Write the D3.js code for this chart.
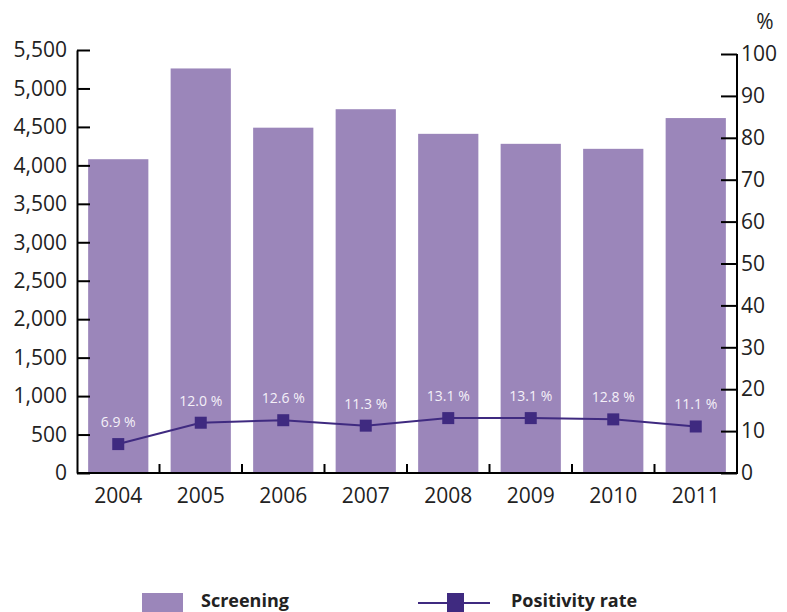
<!DOCTYPE html>
<html>
<head>
<meta charset="utf-8">
<script src="https://cdn.jsdelivr.net/npm/d3@7"></script>
<style>
  body { margin: 0; background: #fff; }
  svg text { font-family: "Open Sans", "Noto Sans", sans-serif; }
  .axis path, .axis line { stroke: #000; stroke-width: 2; }
  .axis text { font-size: 21px; fill: #222; }
</style>
</head>
<body>
<svg id="chart" width="787" height="612"></svg>
<script>
// chart data
var years = ["2004", "2005", "2006", "2007", "2008", "2009", "2010", "2011"];
var screening = [4080, 5260, 4490, 4730, 4410, 4280, 4215, 4615];
var positivity = [6.9, 12.0, 12.6, 11.3, 13.1, 13.1, 12.8, 11.1];
var leftTicks = [0, 500, 1000, 1500, 2000, 2500, 3000, 3500, 4000, 4500, 5000, 5500];
var rightTicks = [0, 10, 20, 30, 40, 50, 60, 70, 80, 90, 100];

var barColor = "#9b86ba",
    lineColor = "#3f2a80";

var svg = d3.select("#chart"),
    MARGINS = { left: 77, right: 737, top: 50, bottom: 473 };

var x = d3.scaleBand().domain(years).range([MARGINS.left, MARGINS.right]).paddingInner(0.27).paddingOuter(0.135);
var xb = d3.scaleBand().domain(years).range([MARGINS.left, MARGINS.right]);
var yL = d3.scaleLinear().domain([0, 5500]).range([MARGINS.bottom, MARGINS.top]);
var yR = d3.scaleLinear().domain([0, 100]).range([MARGINS.bottom, 54]);

// bars
svg.append("g").selectAll("rect")
   .data(years)
   .enter().append("rect")
   .attr("x", function(d) { return x(d); })
   .attr("width", x.bandwidth())
   .attr("y", function(d, i) { return yL(screening[i]); })
   .attr("height", function(d, i) { return yL(0) - yL(screening[i]); })
   .attr("fill", barColor);

// left axis
var gl = svg.append("g")
   .attr("class", "axis")
   .attr("transform", "translate(" + MARGINS.left + ",0)")
   .call(d3.axisRight(yL).tickValues(leftTicks).tickSize(13).tickSizeOuter(0).tickFormat(d3.format(",")));
gl.selectAll("text").attr("x", -10).attr("text-anchor", "end");

// right axis
var gr = svg.append("g")
   .attr("class", "axis")
   .attr("transform", "translate(" + MARGINS.right + ",0)")
   .call(d3.axisLeft(yR).tickValues(rightTicks).tickSize(16).tickSizeOuter(0));
gr.selectAll("text").attr("x", 4).attr("text-anchor", "start");
gr.select(".domain").attr("d", "M0," + yR(100) + "V" + (MARGINS.bottom + 1));

svg.append("text")
   .attr("x", 765).attr("y", 29)
   .attr("text-anchor", "middle")
   .attr("font-size", 21).attr("fill", "#222")
   .text("%");

// x axis: ticks between bars pointing up
var gx = svg.append("g")
   .attr("class", "axis")
   .attr("transform", "translate(0," + MARGINS.bottom + ")");
gx.append("line")
   .attr("x1", MARGINS.left).attr("x2", MARGINS.right)
   .attr("y1", 0).attr("y2", 0);
gx.selectAll(".tk")
   .data(years.slice(1))
   .enter().append("line")
   .attr("class", "tk")
   .attr("x1", function(d) { return xb(d); })
   .attr("x2", function(d) { return xb(d); })
   .attr("y1", 0).attr("y2", -9);
gx.selectAll(".lbl")
   .data(years)
   .enter().append("text")
   .attr("class", "lbl")
   .attr("x", function(d) { return xb(d) + xb.bandwidth() / 2; })
   .attr("y", 30)
   .attr("text-anchor", "middle")
   .text(function(d) { return d; });

// positivity line
var lineGen = d3.line()
   .x(function(d, i) { return xb(years[i]) + xb.bandwidth() / 2; })
   .y(function(d) { return yR(d); });

svg.append("path")
   .attr("d", lineGen(positivity))
   .attr("stroke", lineColor)
   .attr("stroke-width", 2)
   .attr("fill", "none");

svg.append("g").selectAll("rect")
   .data(positivity)
   .enter().append("rect")
   .attr("x", function(d, i) { return xb(years[i]) + xb.bandwidth() / 2 - 6; })
   .attr("y", function(d) { return yR(d) - 6; })
   .attr("width", 12).attr("height", 12)
   .attr("fill", lineColor);

svg.append("g").selectAll("text")
   .data(positivity)
   .enter().append("text")
   .attr("x", function(d, i) { return xb(years[i]) + xb.bandwidth() / 2; })
   .attr("y", function(d) { return yR(d) - 17; })
   .attr("text-anchor", "middle")
   .attr("font-size", 14)
   .attr("fill", "#f4f0f8")
   .text(function(d) { return d.toFixed(1) + " %"; });

// legend
var lg = svg.append("g");
lg.append("rect")
  .attr("x", 142).attr("y", 593).attr("width", 41).attr("height", 20)
  .attr("fill", barColor);
lg.append("text")
  .attr("x", 201).attr("y", 607)
  .attr("font-size", 18).attr("font-weight", "bold").attr("fill", "#222")
  .text("Screening");
lg.append("line")
  .attr("x1", 418).attr("x2", 490).attr("y1", 603).attr("y2", 603)
  .attr("stroke", lineColor).attr("stroke-width", 2);
lg.append("rect")
  .attr("x", 447).attr("y", 593).attr("width", 17).attr("height", 20)
  .attr("fill", lineColor);
lg.append("text")
  .attr("x", 511).attr("y", 607)
  .attr("font-size", 18).attr("font-weight", "bold").attr("fill", "#222")
  .text("Positivity rate");
</script>
</body>
</html>
